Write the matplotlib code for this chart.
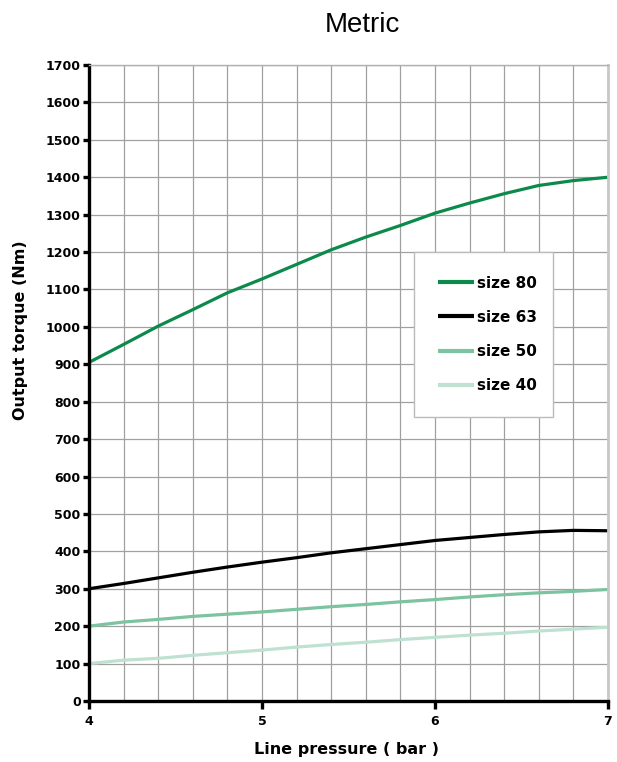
import numpy as np
import matplotlib.pyplot as plt
from matplotlib.ticker import MultipleLocator

# Data (line pressure in bar, torque in Nm)
pressure = [4.0, 4.2, 4.4, 4.6, 4.8, 5.0, 5.2, 5.4, 5.6, 5.8,
            6.0, 6.2, 6.4, 6.6, 6.8, 7.0]
torque_80 = [905, 953, 1002, 1046, 1091, 1128, 1167, 1206, 1240, 1271,
             1304, 1331, 1356, 1378, 1391, 1400]
torque_63 = [300, 314, 329, 344, 358, 371, 383, 396, 407, 418,
             429, 437, 445, 452, 456, 455]
torque_50 = [200, 211, 218, 226, 232, 238, 245, 252, 258, 265,
             271, 278, 284, 289, 293, 298]
torque_40 = [100, 109, 114, 122, 129, 136, 144, 151, 157, 164,
             170, 176, 181, 187, 192, 197]

labels = ["size 80", "size 63", "size 50", "size 40"]
colors = ["#0b8a4b", "#000000", "#7cc3a0", "#bfe1d1"]

x_ticks = [4, 5, 6, 7]
y_ticks = list(range(0, 1800, 100))

plt.rcParams['font.family'] = ['DejaVu Sans']

fig = plt.figure(figsize=(6.17, 7.62), dpi=100)
ax = fig.add_axes([0.1442, 0.0801, 0.8412, 0.8346])

for label, ys, color in zip(labels, [torque_80, torque_63, torque_50, torque_40], colors):
    ax.plot(pressure, ys, color=color, lw=2.3, label=label,
            solid_capstyle='butt', solid_joinstyle='round')

ax.set_xlim(4, 7)
ax.set_ylim(0, 1700)
ax.set_xticks(x_ticks)
ax.set_yticks(y_ticks)
ax.xaxis.set_minor_locator(MultipleLocator(0.2))

ax.grid(True, which='both', axis='x', color='#a0a0a0', lw=0.9)
ax.grid(True, which='major', axis='y', color='#a0a0a0', lw=0.9)
ax.set_axisbelow(True)

for s in ['left', 'bottom']:
    ax.spines[s].set_linewidth(2.4)
    ax.spines[s].set_color('black')
ax.spines['right'].set_color('#c8c8c8')
ax.spines['right'].set_linewidth(2)
ax.spines['top'].set_color('#b0b0b0')
ax.spines['top'].set_linewidth(1)

ax.tick_params(axis='both', which='major', direction='out', length=4,
               width=2.4, labelsize=9, pad=2)
ax.tick_params(axis='x', which='major', length=6, pad=4)
ax.tick_params(axis='x', which='minor', length=0)
ax.tick_params(right=False, top=False)
for t in ax.get_xticklabels() + ax.get_yticklabels():
    t.set_fontweight('bold')

ax.set_xlabel("Line pressure ( bar )", fontsize=11.5, fontweight='bold')
ax.xaxis.set_label_coords(0.497, -0.064)
ax.set_ylabel("Output torque (Nm)", fontsize=11.5, fontweight='bold')
ax.yaxis.set_label_coords(-0.118, 0.583)

fig.text(0.587, 0.967, "Metric", fontsize=20, ha='center', va='center',
         family='Liberation Sans')

leg = ax.legend(loc='upper left', bbox_to_anchor=(0.626, 0.45, 0.268, 0.256),
                mode='expand', prop={'weight': 'bold', 'size': 11},
                frameon=True, fancybox=False, framealpha=1, edgecolor='#bbbbbb',
                handlelength=2.4, handletextpad=0.2, labelspacing=1.25,
                borderpad=1.55, borderaxespad=0)
leg.get_frame().set_linewidth(1)
for line in leg.get_lines():
    line.set_linewidth(3)

fig.savefig("out.png", dpi=100, facecolor='white')
